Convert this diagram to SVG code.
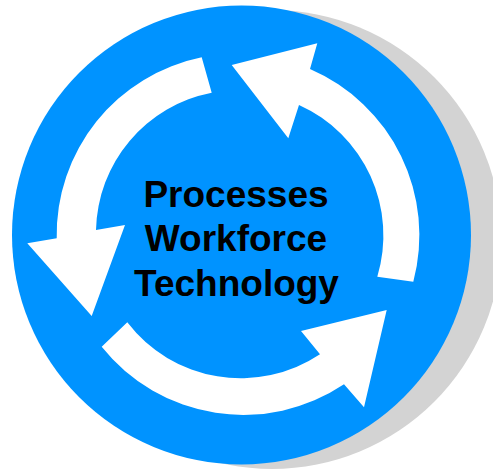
<svg xmlns="http://www.w3.org/2000/svg" width="493" height="469" viewBox="0 0 493 469">
  <style>
    .arrow { fill: #FFFFFF; stroke: none; }
    .label { font-family: "Liberation Sans", Arial, sans-serif; font-weight: bold; font-size: 37px; fill: #000000; text-anchor: middle; }
  </style>
  <rect width="493" height="469" fill="#FFFFFF"/>
  <g id="disc">
    <circle cx="272" cy="239.5" r="229.5" fill="#D3D3D3"/>
    <circle cx="241.5" cy="235" r="229.5" fill="#0093FF"/>
  </g>
  <g id="connectors">
    <path id="arrow-left" class="arrow" d="M 201.7 57.3 A 181 181 0 0 0 56.7 238.3 L 27.3 243.3 L 91.7 316 L 125 225 L 96 230 A 143 143 0 0 1 211.7 92.7 Z"/>
    <path id="arrow-right" class="arrow" d="M 413.3 281.7 A 181 181 0 0 0 310 69 L 317.3 43.3 L 231.7 65 L 288.3 138.3 L 299 105 A 143 143 0 0 1 377.3 276.7 Z"/>
    <path id="arrow-bottom" class="arrow" d="M 101.7 346.7 A 181 181 0 0 0 344 384.3 L 364 407.3 L 386.7 310 L 301 331 L 320 354.3 A 143 143 0 0 1 127.3 322.3 Z"/>
  </g>
  <g id="center-label">
    <text class="label" x="236" y="207">Processes</text>
    <text class="label" x="236" y="251">Workforce</text>
    <text class="label" x="236.5" y="296">Technology</text>
  </g>
</svg>
